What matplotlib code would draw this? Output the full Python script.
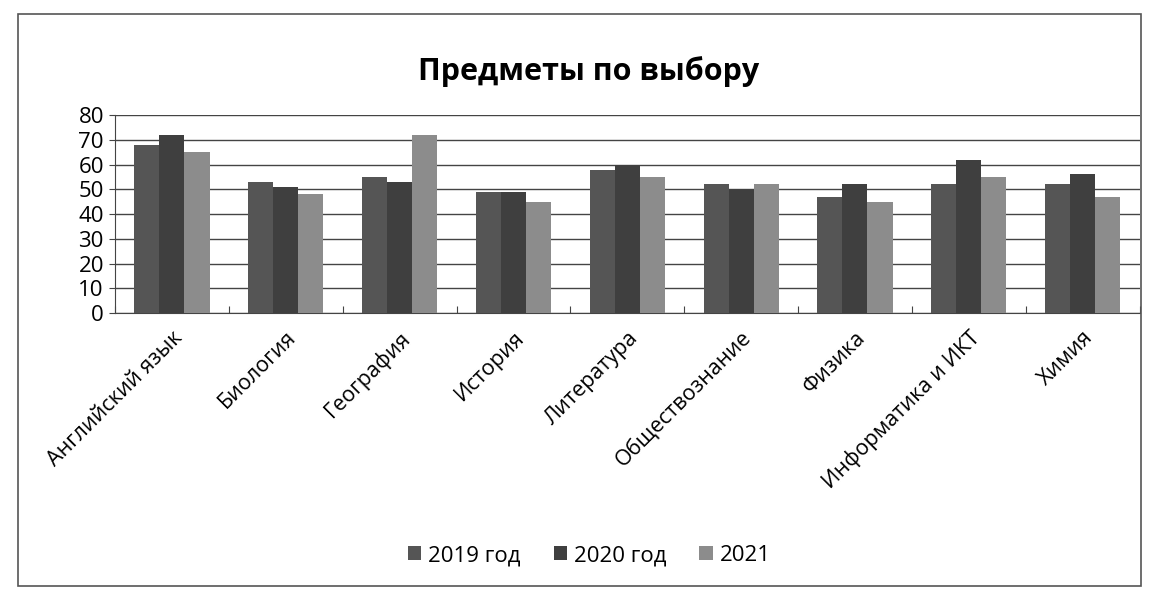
import numpy as np
import matplotlib.pyplot as plt
from matplotlib.patches import Rectangle

subjects = ["Английский язык", "Биология", "География", "История", "Литература",
            "Обществознание", "Физика", "Информатика и ИКТ", "Химия"]
series_names = ["2019 год", "2020 год", "2021"]
y2019 = [68, 53, 55, 49, 58, 52, 47, 52, 52]
y2020 = [72, 51, 53, 49, 60, 50, 52, 62, 56]
y2021 = [65, 48, 72, 45, 55, 52, 45, 55, 47]
colors = ["#555555", "#3f3f3f", "#8c8c8c"]

plt.rcParams['font.family'] = ['Open Sans', 'DejaVu Sans']

fig = plt.figure(figsize=(11.55, 5.93), dpi=100)
ax = fig.add_axes([0.0996, 0.472, 0.887, 0.334])

x = np.arange(len(subjects)) + 0.5
w = 0.22
for k, (vals, name) in enumerate(zip([y2019, y2020, y2021], series_names)):
    ax.bar(x + (k - 1) * w, vals, width=w, color=colors[k], label=name, zorder=3)

ax.set_xlim(0, len(subjects))
ax.set_ylim(0, 80)
ax.set_yticks(range(0, 81, 10))
ax.yaxis.grid(True, color="#444444", linewidth=1.0, zorder=0)
ax.set_xticks(np.arange(len(subjects) + 1))
ax.set_xticklabels([])
ax.set_xticks(x, minor=True)
ax.set_xticklabels(subjects, minor=True, rotation=45, ha="right", rotation_mode="anchor",
                   fontsize=15.5)
ax.tick_params(axis="x", which="minor", length=0, pad=10)
ax.tick_params(axis="x", which="major", length=5, direction="in", color="#444444")
ax.tick_params(axis="y", labelsize=16, length=4, color="#444444", pad=4)
for s in ["top", "right"]:
    ax.spines[s].set_visible(False)
ax.spines["left"].set_color("#444444")
ax.spines["bottom"].set_color("#444444")

fig.text(0.51, 0.88, "Предметы по выбору", ha="center", va="center",
         fontsize=22, fontweight="bold")

fig.legend(loc="center", bbox_to_anchor=(0.51, 0.063), ncol=3, frameon=False,
           fontsize=16, handlelength=0.6, handleheight=0.6, handletextpad=0.3,
           columnspacing=1.5)

fig.patches.append(Rectangle((0.016, 0.012), 0.972, 0.965, transform=fig.transFigure,
                             fill=False, edgecolor="#555555", linewidth=1.2))

fig.savefig("out.png", dpi=100, facecolor="white")
